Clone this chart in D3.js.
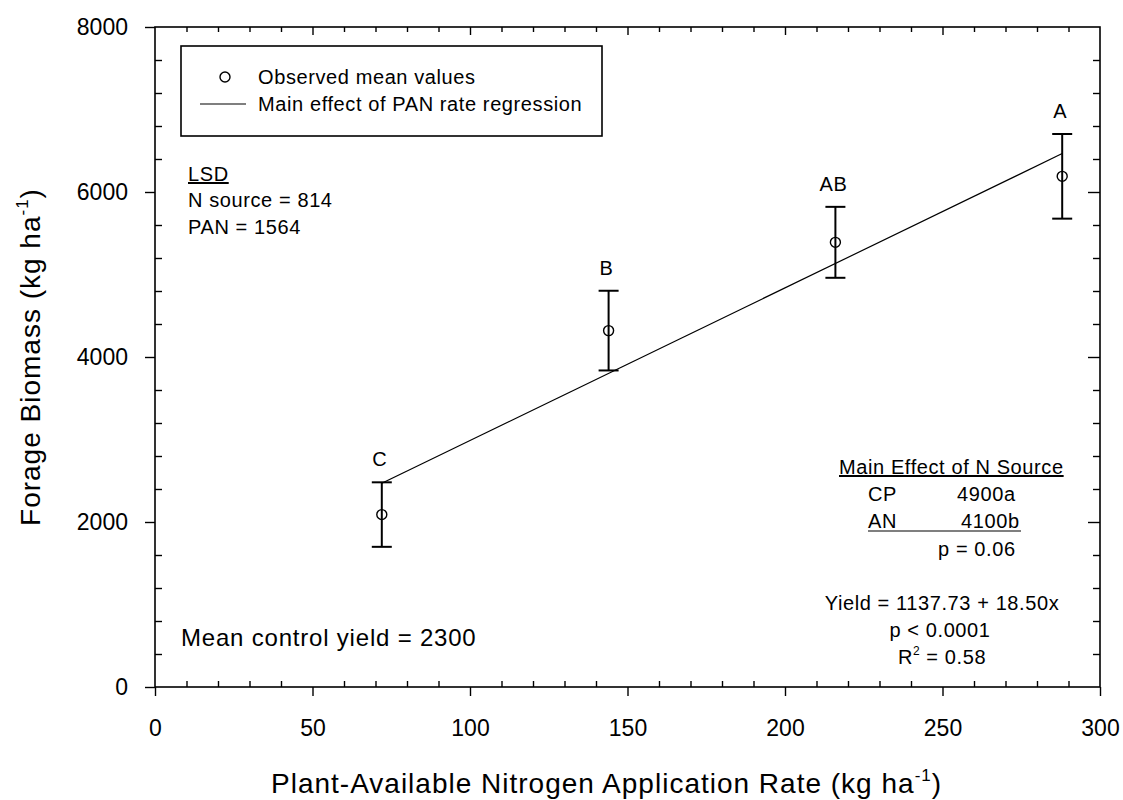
<!DOCTYPE html>
<html>
<head>
<meta charset="utf-8">
<script src="https://cdn.jsdelivr.net/npm/d3@7"></script>
<style>
  body { margin: 0; background: #fff; }
  svg text { font-family: "Liberation Sans", Arial, sans-serif; fill: #000; }
</style>
</head>
<body>
<div id="chart"></div>
<script>
// data
var panRate = [72, 144, 216, 288];
var biomassMean = [2090, 4320, 5390, 6190];
var biomassErr = [391, 483, 430, 513];
var groupLetters = ["C", "B", "AB", "A"];
var regIntercept = 1137.73,
    regSlope = 18.50;
var xTicks = [0, 50, 100, 150, 200, 250, 300];
var yTicks = [0, 2000, 4000, 6000, 8000];

var width = 1123,
    height = 800,
    plot = { left: 155, right: 1100, top: 27, bottom: 687 };

var svg = d3.select("#chart")
    .append("svg")
    .attr("width", width)
    .attr("height", height);

var x = d3.scaleLinear().domain([0, 300]).range([plot.left, plot.right]);
var y = d3.scaleLinear().domain([0, 8000]).range([plot.bottom, plot.top]);

var xMinor = d3.range(0, 301, 10).filter(function(d) { return d % 50 !== 0; });
var yMinor = d3.range(0, 8001, 400).filter(function(d) { return d % 2000 !== 0; });

function clean(g) {
    g.select(".domain").remove();
    g.selectAll("line").attr("stroke", "#000").attr("stroke-width", 1.4);
}

// bottom axis: majors out, minors in
svg.append("g")
    .attr("transform", "translate(0," + plot.bottom + ")")
    .call(d3.axisBottom(x).tickValues(xTicks).tickSize(9).tickPadding(24).tickFormat(d3.format("d")))
    .call(clean)
    .selectAll("text")
    .style("font-size", "23px");
svg.append("g")
    .attr("transform", "translate(0," + plot.bottom + ")")
    .call(d3.axisBottom(x).tickValues(xMinor).tickSize(-6).tickFormat(""))
    .call(clean);

// top axis, all inward
svg.append("g")
    .attr("transform", "translate(0," + plot.top + ")")
    .call(d3.axisTop(x).tickValues(xTicks.slice(1, -1)).tickSize(-8).tickFormat(""))
    .call(clean);
svg.append("g")
    .attr("transform", "translate(0," + plot.top + ")")
    .call(d3.axisTop(x).tickValues(xMinor).tickSize(-5).tickFormat(""))
    .call(clean);

// left axis
svg.append("g")
    .attr("transform", "translate(" + plot.left + ",0)")
    .call(d3.axisLeft(y).tickValues(yTicks).tickSize(10).tickPadding(17).tickFormat(d3.format("d")))
    .call(clean)
    .selectAll("text")
    .style("font-size", "23px");
svg.append("g")
    .attr("transform", "translate(" + plot.left + ",0)")
    .call(d3.axisLeft(y).tickValues(yMinor).tickSize(-7).tickFormat(""))
    .call(clean);

// right axis, inward
svg.append("g")
    .attr("transform", "translate(" + plot.right + ",0)")
    .call(d3.axisRight(y).tickValues(yTicks.slice(1, -1)).tickSize(-12).tickFormat(""))
    .call(clean);
svg.append("g")
    .attr("transform", "translate(" + plot.right + ",0)")
    .call(d3.axisRight(y).tickValues(yMinor).tickSize(-7).tickFormat(""))
    .call(clean);

// frame
svg.append("rect")
    .attr("x", plot.left)
    .attr("y", plot.top)
    .attr("width", plot.right - plot.left)
    .attr("height", plot.bottom - plot.top)
    .attr("fill", "none")
    .attr("stroke", "#000")
    .attr("stroke-width", 1.6);

// regression line
var xs = d3.extent(panRate);
svg.append("line")
    .attr("x1", x(xs[0]))
    .attr("y1", y(regIntercept + regSlope * xs[0]))
    .attr("x2", x(xs[1]))
    .attr("y2", y(regIntercept + regSlope * xs[1]))
    .attr("stroke", "#000")
    .attr("stroke-width", 1.2);

var pts = panRate.map(function(d, i) {
    return { x: d, y: biomassMean[i], e: biomassErr[i], letter: groupLetters[i] };
});

var pt = svg.selectAll("g.pt").data(pts).enter().append("g").attr("class", "pt");

pt.append("line")
    .attr("x1", function(d) { return x(d.x); })
    .attr("x2", function(d) { return x(d.x); })
    .attr("y1", function(d) { return y(d.y - d.e); })
    .attr("y2", function(d) { return y(d.y + d.e); })
    .attr("stroke", "#000")
    .attr("stroke-width", 2);

[-1, 1].forEach(function(s) {
    pt.append("line")
        .attr("x1", function(d) { return x(d.x) - 10; })
        .attr("x2", function(d) { return x(d.x) + 10; })
        .attr("y1", function(d) { return y(d.y + s * d.e); })
        .attr("y2", function(d) { return y(d.y + s * d.e); })
        .attr("stroke", "#000")
        .attr("stroke-width", 2);
});

pt.append("circle")
    .attr("cx", function(d) { return x(d.x); })
    .attr("cy", function(d) { return y(d.y); })
    .attr("r", 5)
    .attr("fill", "none")
    .attr("stroke", "#000")
    .attr("stroke-width", 1.4);

pt.append("text")
    .attr("x", function(d) { return x(d.x) - 2; })
    .attr("y", function(d) { return y(d.y + d.e) - 16; })
    .attr("text-anchor", "middle")
    .style("font-size", "20px")
    .style("letter-spacing", "0.6px")
    .text(function(d) { return d.letter; });

// legend
svg.append("rect")
    .attr("x", 181).attr("y", 46)
    .attr("width", 421).attr("height", 90)
    .attr("fill", "none").attr("stroke", "#000").attr("stroke-width", 1.6);
svg.append("circle")
    .attr("cx", 225).attr("cy", 77).attr("r", 5)
    .attr("fill", "none").attr("stroke", "#000").attr("stroke-width", 1.4);
svg.append("line")
    .attr("x1", 200).attr("x2", 246).attr("y1", 104).attr("y2", 104)
    .attr("stroke", "#000").attr("stroke-width", 1.2);

function label(px, py, str, size, anchor) {
    return svg.append("text")
        .attr("x", px).attr("y", py)
        .attr("text-anchor", anchor || "start")
        .style("font-size", (size || 20) + "px")
        .style("letter-spacing", "0.6px")
        .text(str);
}

label(258, 84, "Observed mean values");
label(258, 111, "Main effect of PAN rate regression");

label(188, 181, "LSD").style("text-decoration", "underline");
label(188, 207, "N source = 814");
label(188, 234, "PAN = 1564");

label(181, 646, "Mean control yield = 2300", 24).style("letter-spacing", "0.8px");

label(839, 474, "Main Effect of N Source").style("text-decoration", "underline");
label(868, 501, "CP");
label(957, 501, "4900a");
label(868, 528, "AN");
label(961, 528, "4100b");
svg.append("line")
    .attr("x1", 868).attr("x2", 1021).attr("y1", 531).attr("y2", 531)
    .attr("stroke", "#000").attr("stroke-width", 1.2);
label(938, 556, "p = 0.06");

label(942, 610, "Yield = 1137.73 + 18.50x", 20, "middle");
label(940, 637, "p < 0.0001", 20, "middle");
var r2 = label(942, 664, "R", 20, "middle");
r2.append("tspan").attr("dy", -9).style("font-size", "12px").text("2");
r2.append("tspan").attr("dy", 9).text(" = 0.58");

// axis titles
var xt = svg.append("text")
    .attr("x", 271)
    .attr("y", 793)
    .style("font-size", "28px")
    .style("letter-spacing", "1px")
    .text("Plant-Available Nitrogen Application Rate (kg ha");
xt.append("tspan").attr("dy", -12).style("font-size", "17px").text("-1");
xt.append("tspan").attr("dy", 12).text(")");

var yt = svg.append("text")
    .attr("transform", "translate(40," + (plot.top + plot.bottom) / 2 + ") rotate(-90)")
    .attr("text-anchor", "middle")
    .style("font-size", "28px")
    .style("letter-spacing", "1px")
    .text("Forage Biomass (kg ha");
yt.append("tspan").attr("dy", -12).style("font-size", "17px").text("-1");
yt.append("tspan").attr("dy", 12).text(")");
</script>
</body>
</html>
